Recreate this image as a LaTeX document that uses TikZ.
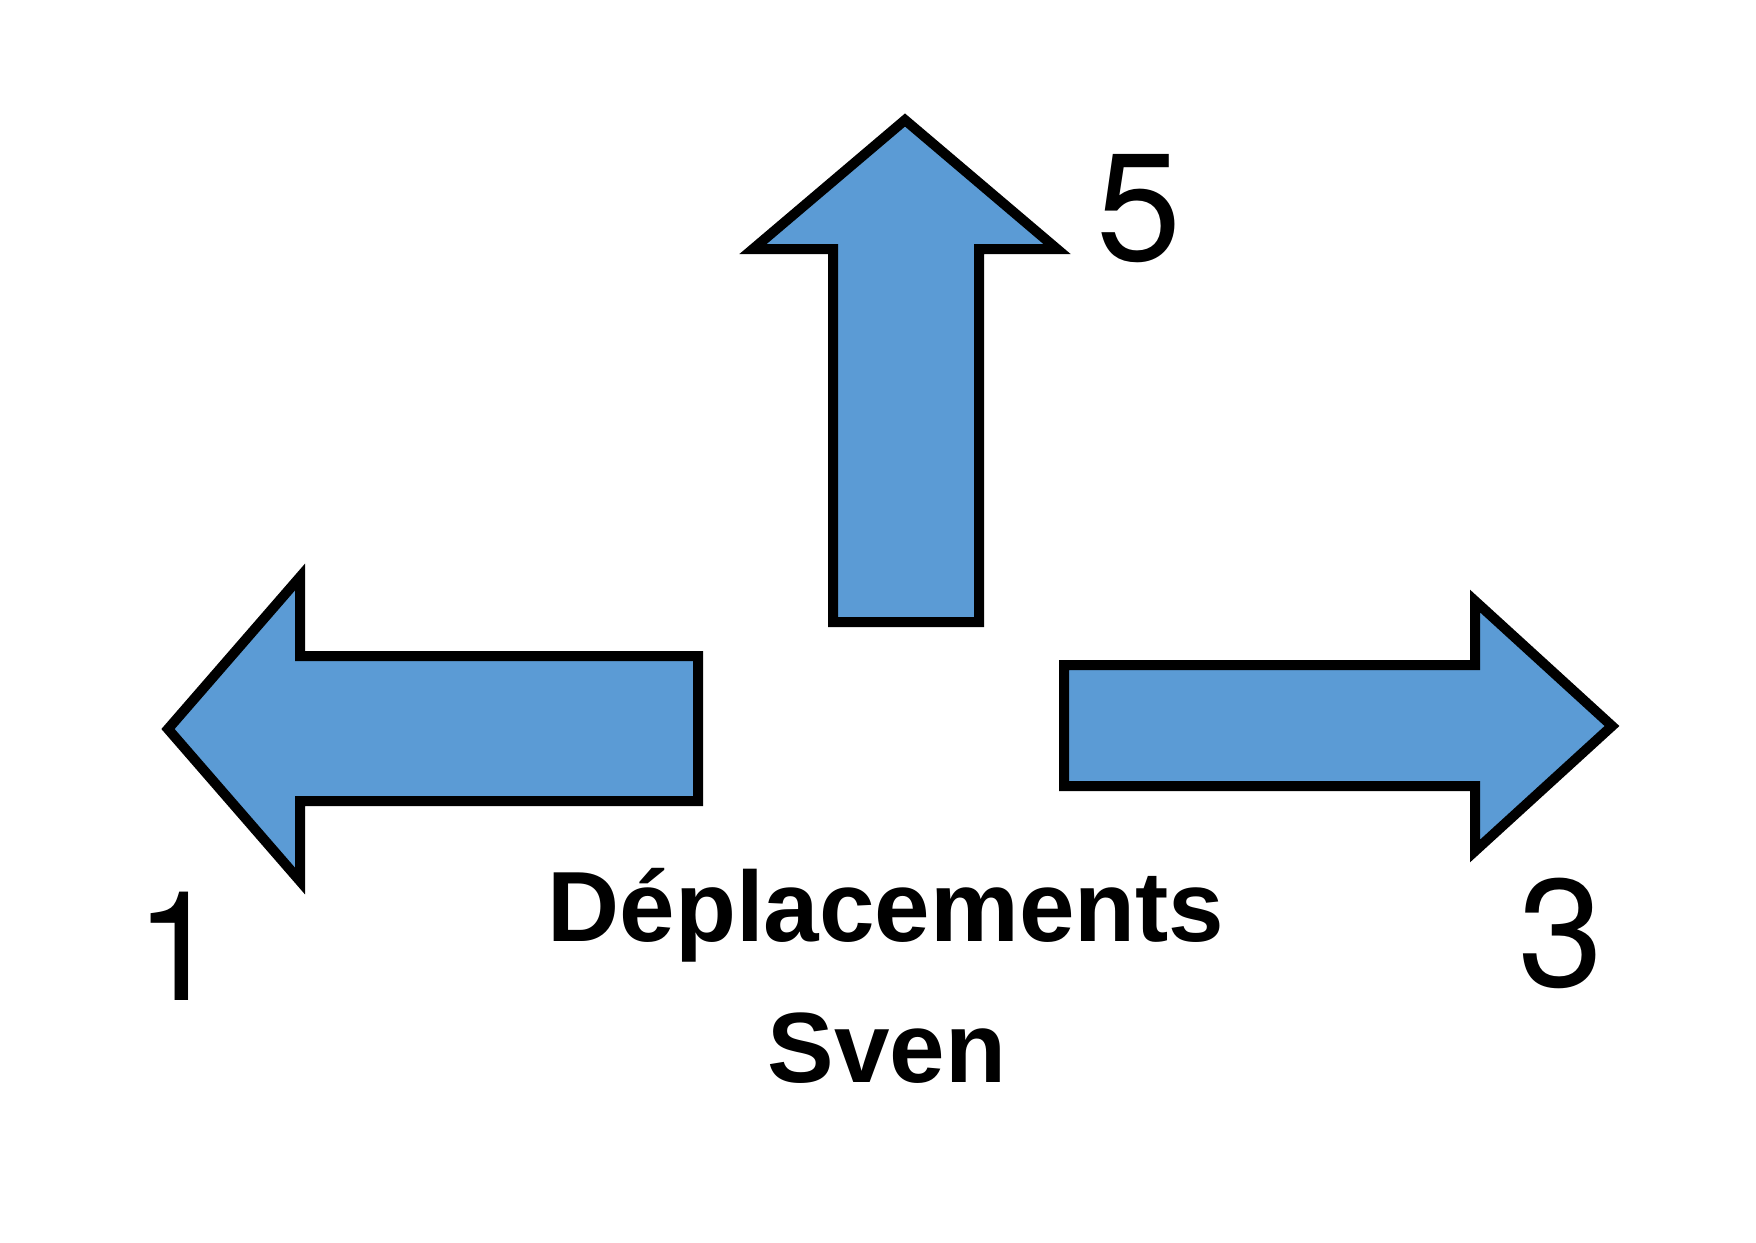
\documentclass[tikz,border=0pt]{standalone}
\usepackage{fontspec}
\setmainfont{Liberation Sans}
\newfontfamily\digitfont{TeX Gyre Heros}
\definecolor{arrowblue}{HTML}{5B9BD5}
\tikzset{
    bigarrow/.style={draw=black, fill=arrowblue, line width=1mm, line join=miter},
    digit/.style={anchor=base, inner sep=0pt, font=\digitfont\fontsize{43.5}{48}\selectfont},
    title/.style={anchor=base, inner sep=0pt, font=\fontsize{28.4}{34}\selectfont\bfseries}
}
\begin{document}
\begin{tikzpicture}[x=0.1mm,y=-0.1mm]
        \useasboundingbox (0,0) rectangle (1756,1242);
        % arrows
            \draw[bigarrow] (905,120) -- (1057,249) -- (979,249) -- (979,622)
                -- (833,622) -- (833,249) -- (753,249) -- cycle;
            \draw[bigarrow] (168,729) -- (300,577) -- (300,656) -- (698,656)
                -- (698,801) -- (300,801) -- (300,881) -- cycle;
            \draw[bigarrow] (1612,726) -- (1475,601) -- (1475,665) -- (1064,665)
                -- (1064,786) -- (1475,786) -- (1475,851) -- cycle;
        % numbers
            \foreach \x/\y/\v in {1139/260/5,178/1000/1,1561/986/3}{
                \node[digit] (n\v) at (\x,\y) {\v};
            }
        % labels
            \node[title] (depl) at (886,941) {Déplacements};
            \node[title] (sven) at (887,1082) {Sven};
\end{tikzpicture}
\end{document}
